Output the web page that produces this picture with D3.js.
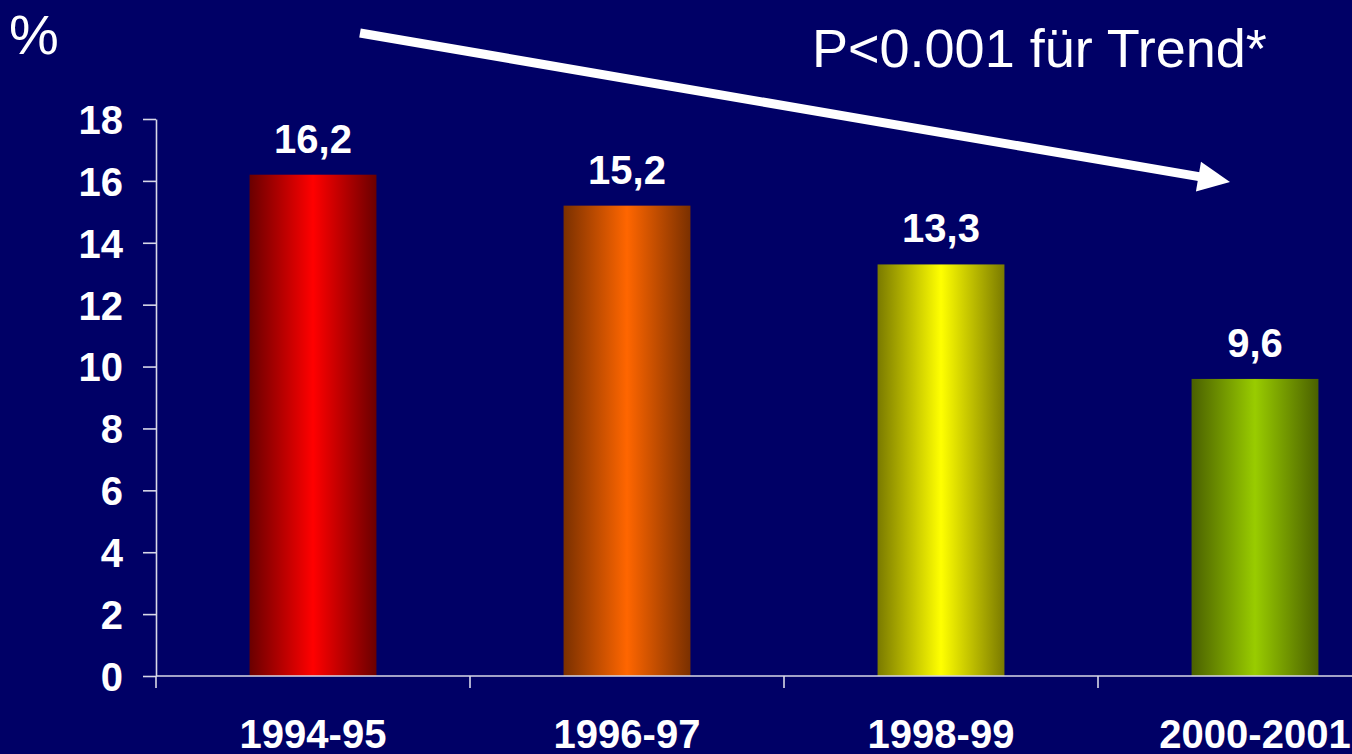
<!DOCTYPE html>
<html>
<head>
<meta charset="utf-8">
<script src="https://cdn.jsdelivr.net/npm/d3@7"></script>
<style>
  html, body { margin: 0; padding: 0; background: #000066; overflow: hidden; }
  svg { display: block; }
  text { font-family: "Liberation Sans", Arial, sans-serif; fill: #ffffff; }
</style>
</head>
<body>
<svg id="chart" width="1352" height="754"></svg>
<script>
// Periods and share (%) per period
const categories = ["1994-95", "1996-97", "1998-99", "2000-2001"];
const values = [16.2, 15.2, 13.3, 9.6];
const valueLabels = ["16,2", "15,2", "13,3", "9,6"];
const yTicks = [0, 2, 4, 6, 8, 10, 12, 14, 16, 18];
// Bar gradients: [edge colour, centre colour]
const barColors = [
  ["#6a0000", "#ff0000"],
  ["#7a3000", "#ff6600"],
  ["#7a7a00", "#ffff00"],
  ["#4a6000", "#99cc00"]
];

const W = 1352, H = 754;
const svg = d3.select("#chart");
const axisColor = "#d8d8e8";

const x = d3.scaleBand()
  .domain(categories)
  .range([156, 1412])
  .paddingInner(0.596)
  .paddingOuter(0.298);

const y = d3.scaleLinear().domain([0, 18]).range([676, 119]);

// Horizontal gradients per bar
const defs = svg.append("defs");
barColors.forEach((c, i) => {
  const g = defs.append("linearGradient")
    .attr("id", "grad" + i)
    .attr("x1", "0%").attr("x2", "100%").attr("y1", "0%").attr("y2", "0%");
  g.append("stop").attr("offset", "0%").attr("stop-color", c[0]);
  g.append("stop").attr("offset", "50%").attr("stop-color", c[1]);
  g.append("stop").attr("offset", "100%").attr("stop-color", c[0]);
});

// Bars
svg.append("g").selectAll("rect")
  .data(values)
  .join("rect")
  .attr("x", (d, i) => x(categories[i]))
  .attr("width", x.bandwidth())
  .attr("y", d => y(d))
  .attr("height", d => y(0) - y(d))
  .attr("fill", (d, i) => `url(#grad${i})`);

// Value labels
svg.append("g").selectAll("text")
  .data(values)
  .join("text")
  .attr("x", (d, i) => x(categories[i]) + x.bandwidth() / 2)
  .attr("y", d => y(d) - 22)
  .attr("text-anchor", "middle")
  .style("font-size", "40px")
  .style("font-weight", "bold")
  .text((d, i) => valueLabels[i]);

// Y axis
const yAxis = svg.append("g")
  .attr("transform", "translate(156,0)")
  .call(d3.axisLeft(y).tickValues(yTicks).tickSize(13).tickPadding(20).tickSizeOuter(0));
yAxis.select(".domain").attr("stroke", axisColor).attr("stroke-width", 1.6);
yAxis.selectAll(".tick line").attr("stroke", axisColor).attr("stroke-width", 1.6);
yAxis.selectAll(".tick text")
  .attr("fill", "#ffffff")
  .style("font-family", '"Liberation Sans", Arial, sans-serif')
  .style("font-size", "40px")
  .style("font-weight", "bold")
  .attr("dy", "0.36em");

// X axis: baseline with ticks at category boundaries
const step = x.step();
const boundaries = d3.range(categories.length + 1).map(i => x.range()[0] + i * step);
const xAxis = svg.append("g");
xAxis.append("line")
  .attr("x1", 156).attr("x2", W)
  .attr("y1", y(0)).attr("y2", y(0))
  .attr("stroke", axisColor).attr("stroke-width", 1.6);
xAxis.selectAll("line.tick")
  .data(boundaries)
  .join("line")
  .attr("class", "tick")
  .attr("x1", d => d).attr("x2", d => d)
  .attr("y1", y(0)).attr("y2", y(0) + 12)
  .attr("stroke", axisColor).attr("stroke-width", 1.6);
xAxis.selectAll("text")
  .data(categories)
  .join("text")
  .attr("x", d => x(d) + x.bandwidth() / 2)
  .attr("y", 748)
  .attr("text-anchor", "middle")
  .style("font-size", "40px")
  .style("font-weight", "bold")
  .text(d => d);

// Unit label
svg.append("text")
  .attr("x", 9).attr("y", 54)
  .style("font-size", "56px")
  .text("%");

// Trend annotation
svg.append("text")
  .attr("x", 812).attr("y", 67)
  .style("font-size", "54px")
  .text("P<0.001 für Trend*");

// Trend arrow
const a0 = [360, 33], a1 = [1230, 182];
const ang = Math.atan2(a1[1] - a0[1], a1[0] - a0[0]);
const headLen = 32, headHalf = 15;
const base = [a1[0] - headLen * Math.cos(ang), a1[1] - headLen * Math.sin(ang)];
svg.append("line")
  .attr("x1", a0[0]).attr("y1", a0[1])
  .attr("x2", base[0] + 2 * Math.cos(ang)).attr("y2", base[1] + 2 * Math.sin(ang))
  .attr("stroke", "#ffffff").attr("stroke-width", 9);
svg.append("path")
  .attr("d", d3.line()([
    a1,
    [base[0] + headHalf * Math.sin(ang), base[1] - headHalf * Math.cos(ang)],
    [base[0] - headHalf * Math.sin(ang), base[1] + headHalf * Math.cos(ang)]
  ]) + "Z")
  .attr("fill", "#ffffff");
</script>
</body>
</html>
